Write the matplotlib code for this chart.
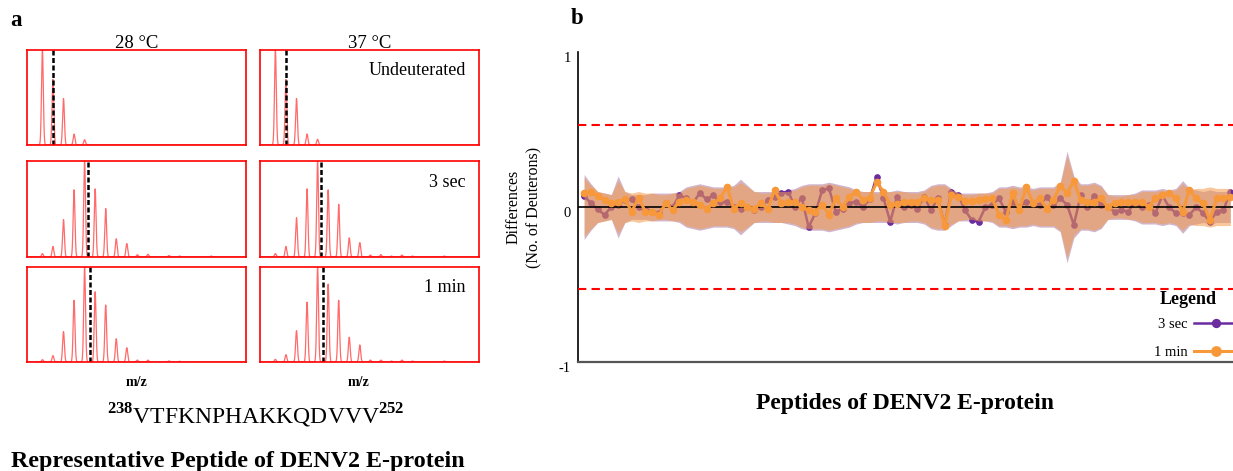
import numpy as np
import matplotlib
matplotlib.use('Agg')
import matplotlib.pyplot as plt
from matplotlib.transforms import ScaledTranslation

plt.rcParams['font.family'] = 'Liberation Serif'
plt.rcParams['mathtext.fontset'] = 'custom'
plt.rcParams['mathtext.rm'] = 'Liberation Serif'
plt.rcParams['mathtext.bf'] = 'Liberation Serif:bold'

# ---- panel a: isotope envelopes of the representative peptide ----
temps = ['28 °C', '37 °C']
times = ['Undeuterated', '3 sec', '1 min']
mono_mz = 1.46  # first isotope peak (plot m/z units, 1 unit = isotope spacing)
spec_28 = [
    [1.0, 0.69, 0.49, 0.115, 0.056],
    [0.035, 0.11, 0.39, 0.70, 1.0, 0.71, 0.505, 0.19, 0.14, 0.024, 0.028, 0, 0.015, 0.01, 0, 0, 0.01],
    [0.025, 0.067, 0.32, 0.65, 1.0, 0.74, 0.60, 0.245, 0.15, 0.02, 0.02, 0, 0.012, 0.008],
]
spec_37 = [
    [1.0, 0.69, 0.49, 0.116, 0.06],
    [0.035, 0.11, 0.41, 0.71, 1.0, 0.70, 0.55, 0.20, 0.15, 0.02, 0.025, 0.01, 0.02, 0.01, 0, 0, 0.01],
    [0.028, 0.077, 0.33, 0.63, 1.0, 0.82, 0.65, 0.26, 0.18, 0.02, 0.02, 0.01, 0.02, 0.01, 0, 0, 0.01],
]
centroid_28 = [2.46, 5.75, 6.0]
centroid_37 = [2.46, 5.8, 5.95]

# ---- panel b: differences in deuterium uptake per peptide ----
diff_3sec = [0.07, 0.025, -0.015, -0.05, 0.0, 0.015, 0.045, 0.05, 0.0, -0.015,
             -0.03, -0.04, 0.025, 0.0, 0.075, 0.055, 0.025, 0.09, 0.05, 0.075,
             0.03, 0.035, 0.0, -0.01, 0.0, -0.02, 0.0, 0.045, 0.065, 0.09,
             0.10, 0.0, 0.06, -0.13, -0.04, 0.11, 0.12, -0.03, -0.01, 0.025,
             0.035, 0.0, 0.05, 0.195, 0.06, -0.095, 0.065, 0.0, 0.015, -0.01,
             0.065, -0.02, 0.055, -0.115, 0.10, 0.075, -0.02, -0.085, -0.095, 0.0,
             0.015, 0.055, -0.03, 0.035, 0.0, 0.035, 0.025, 0.015, 0.065, 0.015,
             0.055, 0.015, -0.115, 0.075, 0.0, 0.07, 0.015, 0.0, -0.03, -0.02,
             -0.03, 0.035, 0.0, 0.015, -0.04, 0.075, 0.0, -0.04, -0.04, -0.05,
             0.0, -0.04, -0.095, -0.03, -0.02, 0.10]
diff_1min = [0.09, 0.10, 0.07, 0.045, 0.025, 0.035, 0.05, -0.03, 0.06, -0.03,
             -0.035, -0.05, 0.025, -0.02, 0.035, 0.045, 0.035, 0.015, -0.01, 0.025,
             0.055, 0.13, -0.01, 0.025, 0.0, -0.01, 0.025, -0.015, 0.11, 0.025,
             0.035, 0.03, 0.0, -0.02, -0.03, 0.015, -0.05, 0.055, 0.0, 0.065,
             0.10, 0.045, 0.06, 0.16, 0.10, 0.015, 0.02, 0.035, 0.035, 0.035,
             0.055, 0.045, 0.045, -0.125, 0.075, 0.065, 0.04, 0.04, 0.045, 0.05,
             0.055, -0.05, -0.085, 0.09, -0.02, 0.13, 0.025, 0.055, -0.01, 0.045,
             0.135, 0.09, 0.165, 0.045, 0.035, 0.035, 0.055, 0.0, 0.025, 0.03,
             0.035, 0.035, 0.03, 0.0, 0.055, 0.075, 0.09, 0.055, -0.03, 0.11,
             0.055, 0.025, -0.085, 0.055, 0.055, 0.065]
err_3sec = [0.21, 0.15, 0.10, 0.09, 0.08, 0.20, 0.10, 0.08, 0.08, 0.08,
            0.09, 0.09, 0.09, 0.09, 0.10, 0.13, 0.14, 0.15, 0.14, 0.13,
            0.13, 0.13, 0.14, 0.18, 0.14, 0.10, 0.10, 0.10, 0.10, 0.10,
            0.11, 0.12, 0.14, 0.15, 0.15, 0.15, 0.16, 0.15, 0.14, 0.13,
            0.11, 0.10, 0.10, 0.10, 0.10, 0.10, 0.11, 0.10, 0.10, 0.10,
            0.11, 0.14, 0.15, 0.15, 0.12, 0.09, 0.09, 0.09, 0.09, 0.09,
            0.10, 0.13, 0.13, 0.14, 0.13, 0.13, 0.12, 0.13, 0.13, 0.13,
            0.16, 0.36, 0.20, 0.15, 0.15, 0.16, 0.14, 0.08, 0.08, 0.08,
            0.08, 0.09, 0.11, 0.11, 0.11, 0.12, 0.11, 0.12, 0.17, 0.12,
            0.11, 0.10, 0.11, 0.10, 0.10, 0.10]
err_1min = [0.19, 0.14, 0.10, 0.09, 0.08, 0.17, 0.10, 0.09, 0.10, 0.09,
            0.09, 0.08, 0.08, 0.09, 0.09, 0.12, 0.13, 0.14, 0.13, 0.12,
            0.12, 0.12, 0.13, 0.16, 0.13, 0.10, 0.09, 0.09, 0.10, 0.10,
            0.10, 0.11, 0.13, 0.14, 0.14, 0.14, 0.15, 0.14, 0.13, 0.12,
            0.10, 0.10, 0.10, 0.09, 0.09, 0.10, 0.10, 0.10, 0.09, 0.09,
            0.10, 0.13, 0.14, 0.14, 0.11, 0.09, 0.08, 0.08, 0.09, 0.09,
            0.09, 0.12, 0.12, 0.13, 0.12, 0.12, 0.11, 0.12, 0.12, 0.12,
            0.15, 0.33, 0.18, 0.14, 0.14, 0.15, 0.13, 0.08, 0.07, 0.07,
            0.08, 0.08, 0.10, 0.10, 0.10, 0.11, 0.10, 0.11, 0.15, 0.11,
            0.12, 0.12, 0.13, 0.12, 0.12, 0.12]
sig_limits = [0.53, -0.53]

W, H = 1233, 471
fig = plt.figure(figsize=(W / 100, H / 100), dpi=100)


def box(l, t, r, b):
    # pixel box -> figure fraction [left, bottom, width, height]
    return [l / W, 1 - b / H, (r - l) / W, (b - t) / H]


# panel a
col_left = [27, 260]
row_top = [50, 161, 267]
row_bot = [145, 257, 362]
mz = np.linspace(0, 20.76, 4000)
for c, (spectra, cents) in enumerate([(spec_28, centroid_28), (spec_37, centroid_37)]):
    for r in range(3):
        ax = fig.add_axes(box(col_left[c], row_top[r], col_left[c] + 219, row_bot[r]))
        inten = np.array(spectra[r])
        peaks = mono_mz + np.arange(len(inten))
        y = (inten[:, None] * np.exp(-0.5 * ((mz[None, :] - peaks[:, None]) / 0.085) ** 2)).sum(0)
        ax.plot(mz, y, color='#ff6a6a', lw=0.9)
        ax.axvline(cents[r], color='k', ls=(0, (2, 1)), lw=1.8)
        ax.set_xlim(0, 20.76)
        ax.set_ylim(0, 1.0)
        ax.set_xticks([])
        ax.set_yticks([])
        for s in ax.spines.values():
            s.set_color('#ff0000')
            s.set_linewidth(1.2)
        if c == 1:
            ax.text(0.94, 0.78, times[r], transform=ax.transAxes, ha='right',
                    va='center', fontsize=13)
    fig.text((col_left[c] + 110) / W, 1 - 43 / H, temps[c], ha='center', va='center', fontsize=13.5)
    fig.text([137, 358][c] / W, 1 - 382 / H, 'm/z', ha='center', va='center',
             fontsize=10, fontweight='bold')

fig.text(10 / W, 1 - 20 / H, 'a', fontsize=16.5, fontweight='bold', va='center')
fig.text(577 / W, 1 - 19 / H, 'b', fontsize=16.5, fontweight='bold', va='center', ha='center')
fig.text(256 / W, 1 - 416 / H, r'$^{\mathbf{238}}$VTFKNPHAKKQDVVV$^{\mathbf{252}}$',
         ha='center', va='center', fontsize=17)
fig.text(238 / W, 1 - 461 / H, 'Representative Peptide of DENV2 E-protein',
         ha='center', va='center', fontsize=17.3, fontweight='bold')

# panel b
axb = fig.add_axes(box(578, 52, 1233, 362))
x = np.arange(len(diff_3sec))
axb.fill_between(x, -np.array(err_3sec), err_3sec, color='#8e4a7e', alpha=0.4, lw=0, zorder=1)
axb.plot(x, diff_3sec, color='#6a2c9e', lw=1.8, marker='o', ms=3.8, zorder=2, label='3 sec')
axb.fill_between(x, -np.array(err_1min), err_1min, color='#f39a4a', alpha=0.55, lw=0, zorder=3)
axb.axhline(0, color='k', lw=1.2, zorder=4)
axb.plot(x, diff_1min, color='#f7983a', lw=2.2, marker='o', ms=4.5, zorder=5, label='1 min')
for yv in sig_limits:
    axb.axhline(yv, color='#ff0000', ls=(0, (4, 2.5)), lw=1.5, zorder=6)
axb.set_xlim(-0.9, 95.4)
axb.set_ylim(-1, 1)
axb.set_xticks([])
axb.set_yticks([-1, 0, 1])
axb.set_yticklabels(['-1', '0', '1'])
axb.tick_params(axis='y', length=0, pad=5, labelsize=10.5)
for lab in axb.get_yticklabels():
    lab.set_transform(lab.get_transform() + ScaledTranslation(0, -0.05, fig.dpi_scale_trans))
axb.spines['top'].set_visible(False)
axb.spines['right'].set_visible(False)
axb.spines['left'].set_linewidth(1.2)
axb.spines['bottom'].set_color('#555555')
axb.spines['bottom'].set_linewidth(1.6)
axb.set_ylabel('Differences\n(No. of Deuterons)', fontsize=11.5, labelpad=12, linespacing=1.4)
axb.set_xlabel('Peptides of DENV2 E-protein', fontsize=17, fontweight='bold', labelpad=22)
axb.legend(loc='lower right', bbox_to_anchor=(1.008, 0.01), frameon=False,
           fontsize=10.5, markerfirst=False, handlelength=3, borderpad=0,
           borderaxespad=0, labelspacing=1.0, markerscale=1.5, handletextpad=0.5)
fig.text(1188 / W, 1 - 299 / H, 'Legend', ha='center', va='center',
         fontsize=13, fontweight='bold')

fig.savefig('out.png', dpi=100)
